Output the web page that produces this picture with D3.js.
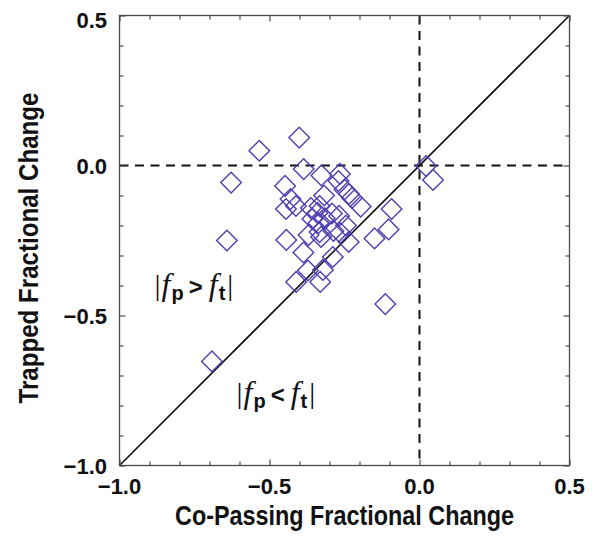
<!DOCTYPE html>
<html><head><meta charset="utf-8">
<script src="https://cdn.jsdelivr.net/npm/d3@7"></script>
<style>html,body{margin:0;padding:0;background:#fff}</style>
</head><body>
<script>
// Data: co-passing (x) vs trapped (y) fractional change
const copassing = [-0.401,-0.534,-0.628,-0.386,-0.642,-0.448,-0.327,-0.265,-0.270,-0.250,
  -0.235,-0.225,-0.196,-0.318,-0.430,-0.445,-0.412,-0.362,-0.333,-0.340,
  -0.292,-0.268,-0.357,-0.316,-0.337,-0.245,-0.333,-0.287,-0.370,-0.328,
  -0.264,-0.236,-0.444,-0.387,-0.289,-0.372,-0.322,-0.411,-0.331,-0.150,
  -0.103,-0.093,-0.114,0.022,0.045,-0.692];
const trapped = [0.093,0.049,-0.057,-0.012,-0.250,-0.068,-0.033,-0.028,-0.052,-0.080,
  -0.095,-0.108,-0.137,-0.100,-0.112,-0.145,-0.135,-0.142,-0.135,-0.158,
  -0.160,-0.168,-0.178,-0.176,-0.192,-0.200,-0.222,-0.218,-0.232,-0.238,
  -0.225,-0.255,-0.248,-0.290,-0.305,-0.350,-0.348,-0.388,-0.388,-0.243,
  -0.213,-0.145,-0.462,-0.002,-0.048,-0.653];
const majorTicks = [-1.0,-0.5,0.0,0.5];
const minorTicks = [-0.9,-0.8,-0.7,-0.6,-0.4,-0.3,-0.2,-0.1,0.1,0.2,0.3,0.4];
const tickLabels = ["\u22121.0","\u22120.5","0.0","0.5"];
const xTitle = "Co-Passing Fractional Change";
const yTitle = "Trapped Fractional Change";

const W = 595, H = 541;
const L = 119.5, R = 569.5, T = 15.5, B = 465.5;
const svg = d3.select("body").append("svg").attr("width", W).attr("height", H);
const x = d3.scaleLinear().domain([-1, 0.5]).range([L, R]);
const y = d3.scaleLinear().domain([-1, 0.5]).range([B, T]);
const axisColor = "#4a4a4a";

// reference lines
svg.append("line").attr("x1", x(0)).attr("x2", x(0)).attr("y1", y(0.5)).attr("y2", y(-1))
  .attr("stroke", "#111").attr("stroke-width", 2).attr("stroke-dasharray", "9,6.5");
svg.append("line").attr("x1", x(-1)).attr("x2", x(0.5)).attr("y1", y(0)).attr("y2", y(0))
  .attr("stroke", "#111").attr("stroke-width", 2).attr("stroke-dasharray", "9,6.5");
svg.append("line").attr("x1", x(-1)).attr("y1", y(-1)).attr("x2", x(0.5)).attr("y2", y(0.5))
  .attr("stroke", "#111").attr("stroke-width", 1.6);

// points
const pts = copassing.map((v, i) => [v, trapped[i]]);
const r = 10.3;
svg.append("g").selectAll("path").data(pts).join("path")
  .attr("transform", d => `translate(${x(d[0])},${y(d[1])})`)
  .attr("d", `M0,${-r}L${r},0L0,${r}L${-r},0Z`)
  .attr("fill", "none").attr("stroke", "#4e40b0").attr("stroke-width", 1.4);

// axes (ticks inward, all four sides)
function styleAxis(g) {
  g.select(".domain").remove();
  g.selectAll(".tick line").attr("stroke", axisColor).attr("stroke-width", 1.2);
}
const fmtNone = () => "";
svg.append("g").attr("transform", `translate(0,${B})`)
  .call(d3.axisTop(x).tickValues(minorTicks).tickSize(4).tickFormat(fmtNone)).call(styleAxis);
svg.append("g").attr("transform", `translate(0,${B})`)
  .call(d3.axisTop(x).tickValues(majorTicks).tickSize(6).tickFormat(fmtNone)).call(styleAxis);
svg.append("g").attr("transform", `translate(0,${T})`)
  .call(d3.axisBottom(x).tickValues(minorTicks).tickSize(4).tickFormat(fmtNone)).call(styleAxis);
svg.append("g").attr("transform", `translate(0,${T})`)
  .call(d3.axisBottom(x).tickValues(majorTicks).tickSize(6).tickFormat(fmtNone)).call(styleAxis);
svg.append("g").attr("transform", `translate(${L},0)`)
  .call(d3.axisRight(y).tickValues(minorTicks).tickSize(4).tickFormat(fmtNone)).call(styleAxis);
svg.append("g").attr("transform", `translate(${L},0)`)
  .call(d3.axisRight(y).tickValues(majorTicks).tickSize(6).tickFormat(fmtNone)).call(styleAxis);
svg.append("g").attr("transform", `translate(${R},0)`)
  .call(d3.axisLeft(y).tickValues(minorTicks).tickSize(4).tickFormat(fmtNone)).call(styleAxis);
svg.append("g").attr("transform", `translate(${R},0)`)
  .call(d3.axisLeft(y).tickValues(majorTicks).tickSize(6).tickFormat(fmtNone)).call(styleAxis);

// frame
svg.append("rect").attr("x", L).attr("y", T).attr("width", R - L).attr("height", B - T)
  .attr("fill", "none").attr("stroke", axisColor).attr("stroke-width", 1.3);

// tick labels
const tickFont = "'Liberation Sans', Arial, sans-serif";
svg.append("g").selectAll("text").data(majorTicks).join("text")
  .attr("x", d => x(d)).attr("y", B + 28)
  .attr("text-anchor", "middle").attr("font-family", tickFont).attr("font-weight", "bold")
  .attr("font-size", 22).attr("fill", "#111")
  .text((d, i) => tickLabels[i]);
svg.append("g").selectAll("text").data(majorTicks).join("text")
  .attr("x", 107).attr("y", d => y(d) + 8 + (d === 0.5 ? 4 : 0))
  .attr("text-anchor", "end").attr("font-family", tickFont).attr("font-weight", "bold")
  .attr("font-size", 22).attr("fill", "#111")
  .text((d, i) => tickLabels[i]);

// axis titles
const titleFont = "'Liberation Sans Narrow', 'Arial Narrow', 'Liberation Sans', sans-serif";
svg.append("text").attr("x", (L + R) / 2).attr("y", 525)
  .attr("text-anchor", "middle").attr("font-family", titleFont).attr("font-weight", "bold")
  .attr("font-size", 28).attr("fill", "#111")
  .attr("textLength", 339).attr("lengthAdjust", "spacingAndGlyphs")
  .text(xTitle);
svg.append("text").attr("transform", "translate(37.5,248) rotate(-90)")
  .attr("text-anchor", "middle").attr("font-family", titleFont).attr("font-weight", "bold")
  .attr("font-size", 28.5).attr("fill", "#111")
  .attr("textLength", 311).attr("lengthAdjust", "spacingAndGlyphs")
  .text(yTitle);

// region annotations
function regionLabel(px, py, sym) {
  const t = svg.append("text").attr("x", x(px)).attr("y", y(py)).attr("fill", "#111");
  t.append("tspan").attr("font-family", "'Liberation Serif', serif").attr("font-size", 30).text("|");
  t.append("tspan").attr("font-family", "'Liberation Serif', serif").attr("font-style", "italic")
    .attr("font-size", 32).attr("dx", 1).text("f");
  t.append("tspan").attr("font-family", tickFont).attr("font-weight", "bold").attr("font-size", 20)
    .attr("dx", 1).attr("dy", 5).text("p");
  t.append("tspan").attr("font-family", tickFont).attr("font-weight", "bold").attr("font-size", 24)
    .attr("dx", 5).attr("dy", -5).text(sym);
  t.append("tspan").attr("font-family", "'Liberation Serif', serif").attr("font-style", "italic")
    .attr("font-size", 32).attr("dx", 6).text("f");
  t.append("tspan").attr("font-family", tickFont).attr("font-weight", "bold").attr("font-size", 20)
    .attr("dx", 1).attr("dy", 5).text("t");
  t.append("tspan").attr("font-family", "'Liberation Serif', serif").attr("font-size", 30)
    .attr("dx", 2).attr("dy", -5).text("|");
}
regionLabel(-0.883, -0.431, ">");
regionLabel(-0.61, -0.79, "<");
</script>
</body></html>
